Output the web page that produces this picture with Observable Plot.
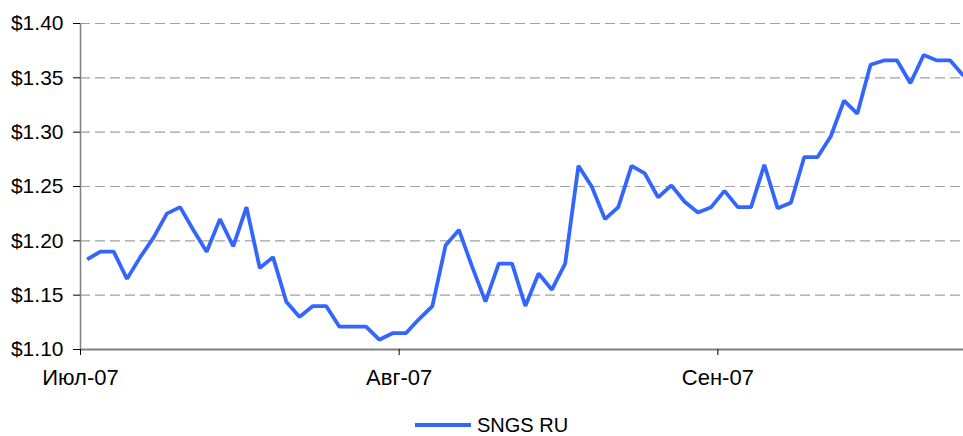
<!DOCTYPE html>
<html>
<head>
<meta charset="utf-8">
<script src="https://cdn.jsdelivr.net/npm/d3@7"></script>
<script src="https://cdn.jsdelivr.net/npm/@observablehq/plot@0.6"></script>
<style>
  html, body { margin: 0; padding: 0; background: #fff; }
  body { width: 963px; height: 436px; position: relative; font-family: "Liberation Sans", Arial, sans-serif; }
  #legend { position: absolute; left: 415px; top: 417px; height: 16px; line-height: 16px; display: flex; align-items: center; font-size: 20px; color: #000; }
  #legend .sw { width: 56px; height: 4px; background: #3366ff; margin-right: 6px; }
</style>
</head>
<body>
<div id="chart"></div>
<div id="legend"><span class="sw"></span><span id="legendText"></span></div>
<script>
// Data
const seriesName = "SNGS RU";
const prices = [
  1.183, 1.190, 1.190, 1.165, 1.185, 1.203, 1.225, 1.231, 1.210, 1.190,
  1.220, 1.195, 1.231, 1.175, 1.185, 1.144, 1.130, 1.140, 1.140, 1.121,
  1.121, 1.121, 1.109, 1.115, 1.115, 1.128, 1.140, 1.196, 1.210, 1.176,
  1.144, 1.179, 1.179, 1.140, 1.170, 1.155, 1.179, 1.269, 1.250, 1.220,
  1.231, 1.269, 1.262, 1.240, 1.251, 1.236, 1.226, 1.231, 1.246, 1.231,
  1.231, 1.270, 1.230, 1.235, 1.277, 1.277, 1.296, 1.329, 1.317, 1.362,
  1.366, 1.366, 1.345, 1.371, 1.366, 1.366, 1.352
];
const monthLabels = ["Июл-07", "Авг-07", "Сен-07"];
const monthStartIndex = [0, 24, 48];
const yTicks = [1.10, 1.15, 1.20, 1.25, 1.30, 1.35, 1.40];

const data = prices.map((v, i) => ({i, v}));
const monthTicks = monthStartIndex.map(i => i - 0.5);
const labelFor = new Map(monthTicks.map((t, k) => [t, monthLabels[k]]));

const chart = Plot.plot({
  width: 963,
  height: 400,
  marginLeft: 80,
  marginRight: 0,
  marginTop: 23,
  marginBottom: 51,
  style: {fontFamily: "'Liberation Sans', Arial, sans-serif", fontSize: "20px", color: "#000", background: "#fff"},
  x: {domain: [-0.5, prices.length - 1], label: null},
  y: {domain: [1.10, 1.40], label: null},
  marks: [
    Plot.ruleY(yTicks.filter(t => t > 1.10), {stroke: "#a0a0a0", strokeWidth: 1.2, strokeDasharray: "10,5"}),
    Plot.ruleX([-0.5], {stroke: "#808080", strokeWidth: 1.5}),
    Plot.ruleY([1.10], {stroke: "#808080", strokeWidth: 2}),
    Plot.axisY({ticks: yTicks, tickFormat: d3.format("$.2f"), tickSize: 7, tickPadding: 10, stroke: "#000", fontSize: 21, label: null}),
    Plot.axisX({ticks: monthTicks, tickFormat: d => labelFor.get(d), tickSize: 6, tickPadding: 14, stroke: "#000", fontSize: 22, label: null}),
    Plot.lineY(data, {x: "i", y: "v", stroke: "#3366ff", strokeWidth: 3.8, strokeLinejoin: "miter", strokeLinecap: "butt"})
  ]
});
document.getElementById("chart").appendChild(chart);
document.getElementById("legendText").textContent = seriesName;
</script>
</body>
</html>
